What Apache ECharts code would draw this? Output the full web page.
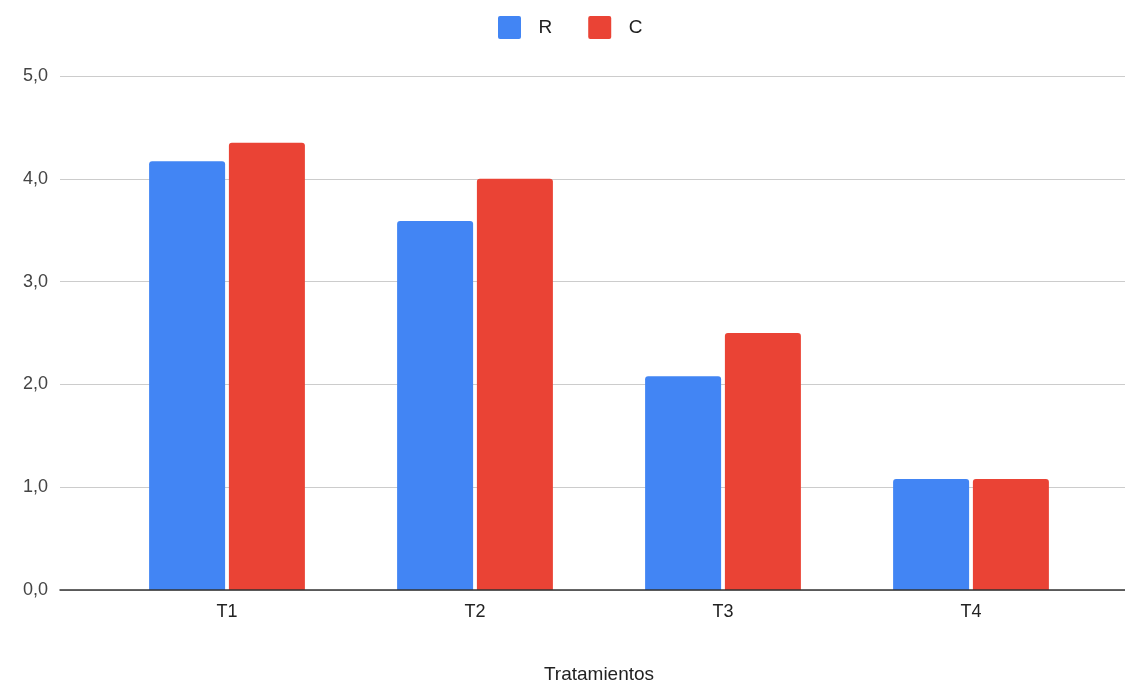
<!DOCTYPE html>
<html>
<head>
<meta charset="utf-8">
<script src="https://cdn.jsdelivr.net/npm/echarts@6/dist/echarts.min.js"></script>
<style>
  html, body { margin: 0; padding: 0; background: #fff; }
  #chart { width: 1125px; height: 684px; }
</style>
</head>
<body>
<div id="chart"></div>
<script>
// Treatments on the x axis, two series per treatment
const categories = ['T1', 'T2', 'T3', 'T4'];
const seriesR = [4.17, 3.59, 2.08, 1.08];
const seriesC = [4.35, 4.0, 2.5, 1.08];
const yTicks = { min: 0, max: 5, interval: 1 };
const xTitle = 'Tratamientos';

const font = 'Arial, "Liberation Sans", sans-serif';
const textColor = '#444';

const chart = echarts.init(document.getElementById('chart'), null, { renderer: 'canvas' });

const plotTop = 76;
const plotBottom = 94;
// small square with softly rounded corners for the legend
const legendIcon = 'path://M2,0 L21,0 Q23,0 23,2 L23,21 Q23,23 21,23 L2,23 Q0,23 0,21 L0,2 Q0,0 2,0 Z';

chart.setOption({
  animation: false,
  backgroundColor: '#fff',
  textStyle: { fontFamily: font },
  legend: {
    top: 16,
    left: 498,
    itemWidth: 24,
    itemHeight: 23,
    itemGap: 36,
    padding: 0,
    icon: legendIcon,
    textStyle: { fontSize: 19, color: '#222', fontFamily: font, padding: [0, 0, 0, 12] },
    data: ['R', 'C']
  },
  grid: [
    // full-width frame carrying the value scale, gridlines and baseline
    { left: 60, right: 0, top: plotTop, bottom: plotBottom, outerBoundsMode: 'none', containLabel: false },
    // inner region holding the category bands
    { left: 103, right: 30, top: plotTop, bottom: plotBottom, outerBoundsMode: 'none', containLabel: false }
  ],
  xAxis: [
    {
      gridIndex: 0,
      type: 'value',
      min: 0, max: 1,
      axisLabel: { show: false },
      axisTick: { show: false },
      splitLine: { show: false },
      axisLine: { show: true, onZero: false, lineStyle: { color: '#333', width: 1.5 } },
      z: 5
    },
    {
      gridIndex: 1,
      type: 'category',
      data: categories,
      axisLine: { show: false },
      axisTick: { show: false },
      axisLabel: { fontSize: 18, color: '#222', margin: 13, fontFamily: font },
      name: xTitle,
      nameLocation: 'middle',
      nameGap: 75,
      nameTextStyle: { fontSize: 19, color: '#222', fontFamily: font }
    }
  ],
  yAxis: [
    {
      gridIndex: 0,
      type: 'value',
      min: yTicks.min, max: yTicks.max, interval: yTicks.interval,
      axisLine: { show: false },
      axisTick: { show: false },
      axisLabel: {
        fontSize: 18, color: textColor, margin: 12, fontFamily: font,
        formatter: v => v.toFixed(1).replace('.', ',')
      },
      splitLine: { show: true, lineStyle: { color: '#cccccc', width: 1.2 } }
    },
    {
      gridIndex: 1,
      type: 'value',
      min: yTicks.min, max: yTicks.max, interval: yTicks.interval,
      show: false,
      splitLine: { show: false }
    }
  ],
  series: [
    {
      name: 'R',
      type: 'bar',
      xAxisIndex: 1, yAxisIndex: 1,
      data: seriesR,
      barWidth: 76,
      barGap: '5%',
      itemStyle: { color: '#4285F4', borderRadius: [3, 3, 0, 0] }
    },
    {
      name: 'C',
      type: 'bar',
      xAxisIndex: 1, yAxisIndex: 1,
      data: seriesC,
      barWidth: 76,
      barGap: '5%',
      itemStyle: { color: '#EA4335', borderRadius: [3, 3, 0, 0] }
    }
  ]
});
</script>
</body>
</html>
